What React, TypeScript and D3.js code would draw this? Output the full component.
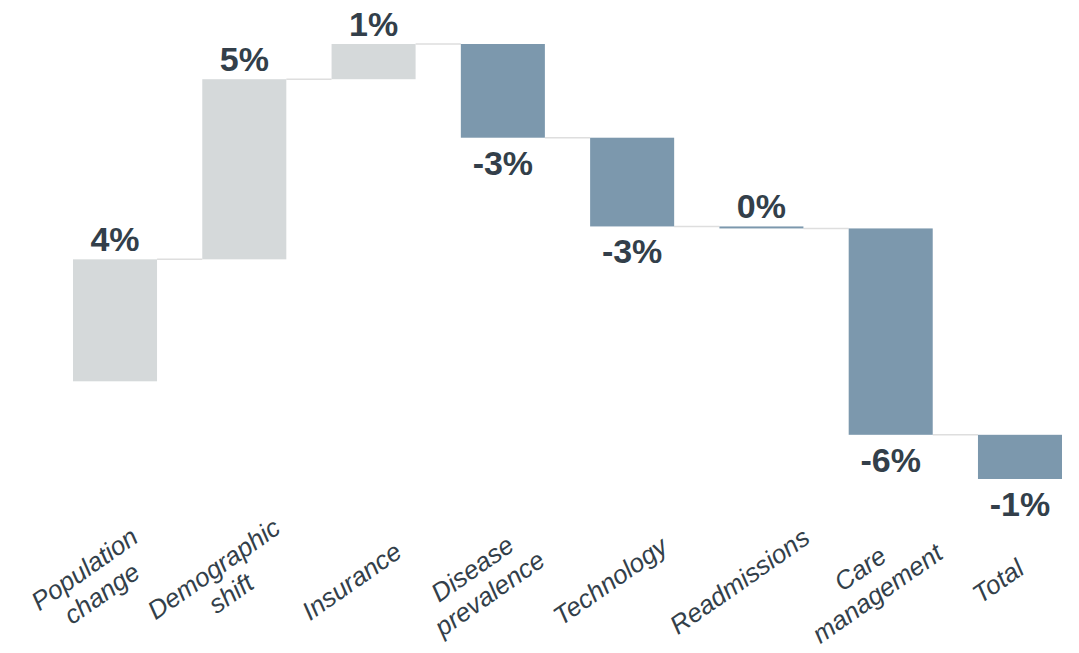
import React, { useEffect } from "react";
import * as d3 from "d3";

const categories: string[][] = [
  ["Population", "change"],
  ["Demographic", "shift"],
  ["Insurance"],
  ["Disease", "prevalence"],
  ["Technology"],
  ["Readmissions"],
  ["Care", "management"],
  ["Total"],
];

// change per step, in percentage points
const changes: number[] = [3.67, 5.42, 1.06, -2.82, -2.67, -0.06, -6.21, -1.33];

const W = 1079;
const H = 653;
const GRAY = "#d5d9da";
const BLUE = "#7c98ad";
const TEXT = "#333f4a";
const FONT = "'Liberation Sans', Arial, Helvetica, sans-serif";

export default function App() {
  useEffect(() => {
    document.body.style.margin = "0";
  }, []);

  const keys = categories.map((c) => c.join(" "));
  const cum: number[] = [0];
  changes.forEach((v, i) => cum.push(cum[i] + v));

  const x = d3
    .scaleBand<string>()
    .domain(keys)
    .range([73, 1062])
    .paddingInner(0.35)
    .paddingOuter(0);

  const y = d3
    .scaleLinear()
    .domain([d3.min(cum) as number, d3.max(cum) as number])
    .range([479, 44]);

  const bw = x.bandwidth();
  const angle = -35;
  const lineH = 30;

  return (
    <svg width={W} height={H} style={{ display: "block", background: "#fff" }}>
      {/* connectors */}
      {changes.slice(0, -1).map((_, i) => {
        const x1 = (x(keys[i]) as number) + bw;
        const x2 = x(keys[i + 1]) as number;
        const yy = y(cum[i + 1]);
        return (
          <line
            key={"c" + i}
            x1={x1}
            x2={x2}
            y1={yy}
            y2={yy}
            stroke="#dedede"
            strokeWidth={1.5}
          />
        );
      })}
      {/* bars */}
      {changes.map((v, i) => {
        const y0 = y(cum[i]);
        const y1 = y(cum[i + 1]);
        const top = Math.min(y0, y1);
        const h = Math.max(Math.abs(y1 - y0), 1.5);
        return (
          <rect
            key={"b" + i}
            x={x(keys[i])}
            y={top}
            width={bw}
            height={h}
            fill={v >= 0 ? GRAY : BLUE}
          />
        );
      })}
      {/* value labels */}
      {changes.map((v, i) => {
        const r = Math.round(v);
        const label = `${r === 0 ? 0 : r}%`;
        const cx = (x(keys[i]) as number) + bw / 2;
        const y0 = y(cum[i]);
        const y1 = y(cum[i + 1]);
        const above = r >= 0;
        const yy = above ? Math.min(y0, y1) - 8 : Math.max(y0, y1) + 37;
        return (
          <text
            key={"v" + i}
            x={cx}
            y={yy}
            textAnchor="middle"
            fontFamily={FONT}
            fontWeight="bold"
            fontSize={34}
            fill={TEXT}
          >
            {label}
          </text>
        );
      })}
      {/* category labels */}
      {categories.map((lines, i) => {
        const cx = (x(keys[i]) as number) + bw / 2 - 22;
        const cy = 581;
        const n = lines.length;
        return (
          <g key={"l" + i} transform={`translate(${cx},${cy}) rotate(${angle})`}>
            {lines.map((t, j) => (
              <text
                key={j}
                x={0}
                y={(j - (n - 1) / 2) * lineH}
                dy="0.35em"
                textAnchor="middle"
                fontFamily={FONT}
                fontStyle="italic"
                fontSize={26}
                fill={TEXT}
              >
                {t}
              </text>
            ))}
          </g>
        );
      })}
    </svg>
  );
}
